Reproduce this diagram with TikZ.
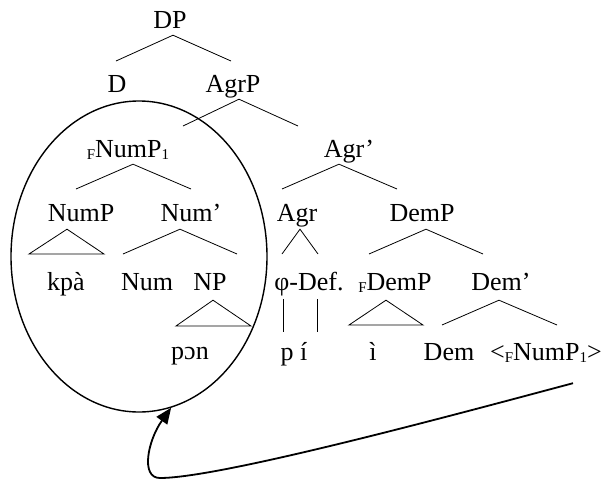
\documentclass[tikz,border=0pt]{standalone}
\usepackage{fontspec}
\setmainfont{Liberation Serif}
\usetikzlibrary{arrows.meta, shapes.geometric}
\newcommand\lowidx[1]{\raisebox{-2pt}{\fontsize{15}{15}\selectfont #1}}

\begin{document}
\begin{tikzpicture}[
    x=1pt, y=-1pt,
    word/.style={anchor=base, inner sep=0pt, text depth=7pt, font=\fontsize{26}{30}\selectfont},
    branch/.style={line width=0.8pt},
    ring/.style={draw, ellipse, line width=1.4pt, inner sep=0pt, minimum width=256pt, minimum height=311pt},
    arrow/.style={-{Triangle[length=16pt, width=13pt]}, line width=1.8pt}
]
\useasboundingbox (0,0) rectangle (606,485);

\node[word] (DP) at (170,28) {DP};
\node[word] (D) at (117,92) {D};
\node[word] (AgrP) at (233,92) {AgrP};
\node[word] (FNumP) at (128,157) {\lowidx{F}NumP\lowidx{1}};
\node[word] (AgrBar) at (349,157) {Agr’};
\node[word] (NumP) at (81,221) {NumP};
\node[word] (NumBar) at (191,221) {Num’};
\node[word] (Agr) at (297,221) {Agr};
\node[word] (DemP) at (422,221) {DemP};
\node[word] (kpa) at (66,290) {kpà};
\node[word] (Num) at (147,290) {Num};
\node[word] (NP) at (210,290) {NP};
\node[word] (phiDef) at (309,290) {φ-Def.};
\node[word] (FDemP) at (395,290) {\lowidx{F}DemP};
\node[word] (DemBar) at (501,290) {Dem’};
\node[word] (pon) at (190,359) {pɔn};
\node[word] (pi) at (294,360) {p í};
\node[word] (i) at (373,360) {ì};
\node[word] (Dem) at (449,360) {Dem};
\node[word] (copy) at (546,360) {<\lowidx{F}NumP\lowidx{1}>};

\node[ring] (moved) at (139,256.5) {};

\coordinate (dp-l) at (116,61);     \coordinate (dp-r) at (231,61);
\coordinate (agrp-l) at (183,126);  \coordinate (agrp-r) at (298,126);
\coordinate (fnump-l) at (76,189);  \coordinate (fnump-r) at (191,189);
\coordinate (agrbar-l) at (282,189); \coordinate (agrbar-r) at (397,189);
\coordinate (nump-l) at (29,254);   \coordinate (nump-r) at (104,254);
\coordinate (numbar-l) at (123,254); \coordinate (numbar-r) at (237,254);
\coordinate (agr-l) at (282,254);   \coordinate (agr-r) at (318,254);
\coordinate (demp-l) at (369,254);  \coordinate (demp-r) at (483,254);
\coordinate (np-l) at (176,326);    \coordinate (np-r) at (251,326);
\coordinate (phi-l) at (283,332);   \coordinate (phi-r) at (317,332);
\coordinate (fdemp-l) at (349,325); \coordinate (fdemp-r) at (423,325);
\coordinate (dembar-l) at (442,325); \coordinate (dembar-r) at (557,325);

\draw[branch] (dp-l) -- ([xshift=3pt]DP.south) -- (dp-r);
\draw[branch] (agrp-l) -- ([xshift=6pt]AgrP.south) -- (agrp-r);
\draw[branch] (fnump-l) -- ([xshift=5pt]FNumP.south) -- (fnump-r);
\draw[branch] (agrbar-l) -- ([xshift=-10pt]AgrBar.south) -- (agrbar-r);
\draw[branch] (nump-l) -- ([xshift=-14pt,yshift=-1pt]NumP.south) -- (nump-r) -- cycle;
\draw[branch] (numbar-l) -- ([xshift=-11pt,yshift=-1pt]NumBar.south) -- (numbar-r);
\draw[branch] (agr-l) -- ([xshift=3pt,yshift=-1pt]Agr.south) -- (agr-r);
\draw[branch] (demp-l) -- ([xshift=4pt,yshift=-1pt]DemP.south) -- (demp-r);
\draw[branch] (np-l) -- ([xshift=3pt,yshift=-3pt]NP.south) -- (np-r) -- cycle;
\draw[branch] ([xshift=-26pt,yshift=-2pt]phiDef.south) -- (phi-l);
\draw[branch] ([xshift=8pt,yshift=-2pt]phiDef.south) -- (phi-r);
\draw[branch] (fdemp-l) -- ([xshift=-9pt,yshift=-3pt]FDemP.south) -- (fdemp-r) -- cycle;
\draw[branch] (dembar-l) -- ([xshift=-2pt,yshift=-3pt]DemBar.south) -- (dembar-r);

\draw[arrow] ([xshift=27pt,yshift=-16pt]copy.south)
    .. controls (450,416) and (220,478) .. (160,478)
    .. controls (140,478) and (148,440) .. (moved.-78);
\end{tikzpicture}
\end{document}
